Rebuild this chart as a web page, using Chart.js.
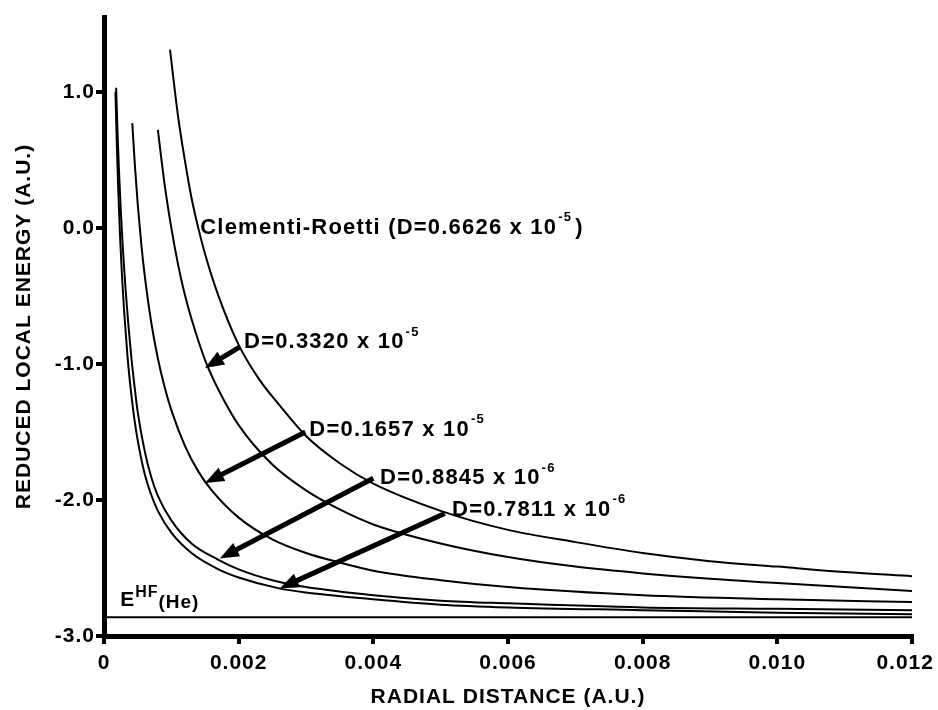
<!DOCTYPE html>
<html>
<head>
<meta charset="utf-8">
<script src="https://cdn.jsdelivr.net/npm/chart.js@4.4.0/dist/chart.umd.min.js"></script>
<style>
  body { margin: 0; background: #fff; }
  #wrap { width: 938px; height: 710px; }
</style>
</head>
<body>
<div id="wrap"><canvas id="myChart"></canvas></div>
<script>
// values (radial distance / reduced local energy, a.u.)

const xCR = [0.00098, 0.0011, 0.0012, 0.0013, 0.0014, 0.0015, 0.0017, 0.002, 0.0023, 0.0026, 0.003, 0.0035, 0.004, 0.005, 0.006, 0.007, 0.008, 0.009, 0.010, 0.011, 0.012];
const yCR = [1.31, 0.82, 0.50, 0.22, 0.0, -0.19, -0.50, -0.86, -1.11, -1.30, -1.53, -1.73, -1.88, -2.08, -2.22, -2.31, -2.39, -2.45, -2.49, -2.53, -2.56];

const x3320 = [0.0008, 0.0009, 0.001, 0.0011, 0.0012, 0.0013, 0.0015, 0.0017, 0.002, 0.0025, 0.003, 0.0035, 0.004, 0.005, 0.006, 0.007, 0.008, 0.009, 0.010, 0.011, 0.012];
const y3320 = [0.72, 0.32, 0.0, -0.27, -0.49, -0.67, -0.97, -1.19, -1.45, -1.74, -1.93, -2.07, -2.18, -2.32, -2.42, -2.49, -2.54, -2.58, -2.61, -2.64, -2.67];

const x1657 = [0.00042, 0.00046, 0.0005, 0.00055, 0.0006, 0.0007, 0.0008, 0.0009, 0.001, 0.0012, 0.0014, 0.0016, 0.002, 0.0025, 0.003, 0.0035, 0.004, 0.005, 0.006, 0.008, 0.010, 0.012];
const y1657 = [0.77, 0.45, 0.18, -0.1, -0.33, -0.69, -0.96, -1.17, -1.34, -1.6, -1.79, -1.93, -2.13, -2.29, -2.39, -2.46, -2.52, -2.59, -2.64, -2.70, -2.73, -2.75];

const x8845 = [0.00018, 0.0002, 0.00022, 0.00025, 0.00028, 0.00032, 0.00036, 0.0004, 0.00045, 0.0005, 0.0006, 0.0007, 0.0008, 0.001, 0.0013, 0.0017, 0.002, 0.0025, 0.003, 0.004, 0.005, 0.006, 0.008, 0.010, 0.012];
const y8845 = [1.03, 0.72, 0.45, 0.12, -0.15, -0.45, -0.7, -0.92, -1.15, -1.35, -1.63, -1.83, -1.97, -2.15, -2.32, -2.44, -2.51, -2.59, -2.64, -2.70, -2.74, -2.76, -2.79, -2.80, -2.81];

const x7811 = [0.00017, 0.00019, 0.00021, 0.00024, 0.00027, 0.0003, 0.00035, 0.0004, 0.00045, 0.0005, 0.0006, 0.0007, 0.0008, 0.001, 0.0013, 0.0017, 0.002, 0.0026, 0.003, 0.004, 0.005, 0.006, 0.008, 0.010, 0.012];
const y7811 = [1.0, 0.62, 0.3, -0.08, -0.38, -0.62, -0.95, -1.2, -1.4, -1.56, -1.8, -1.96, -2.08, -2.24, -2.39, -2.51, -2.57, -2.65, -2.68, -2.73, -2.77, -2.79, -2.81, -2.83, -2.84];

// Hartree-Fock energy of He
const eHF = -2.8617;
const xHF = [0, 0.012];

const xTicks = [0, 0.002, 0.004, 0.006, 0.008, 0.010, 0.012];
const xTickLabels = ['0', '0.002', '0.004', '0.006', '0.008', '0.010', '0.012'];
const yTicks = [-3, -2, -1, 0, 1];
const yTickLabels = ['-3.0', '-2.0', '-1.0', '0.0', '1.0'];

// labels and arrows (data units)
const labelText = ['Clementi-Roetti (D=0.6626 x 10', 'D=0.3320 x 10', 'D=0.1657 x 10', 'D=0.8845 x 10', 'D=0.7811 x 10'];
const labelExp = ['-5', '-5', '-5', '-6', '-6'];
const labelTail = [')', '', '', '', ''];
const labelX = [0.00143, 0.00208, 0.00305, 0.00410, 0.00517];
const labelY = [0.0, -0.84, -1.485, -1.84, -2.07];

const arrowFrom = [[0.00202, -0.875], [0.00299, -1.50], [0.0040, -1.84], [0.00506, -2.10]];
const arrowTo = [[0.0015, -1.03], [0.0015, -1.875], [0.00172, -2.43], [0.00261, -2.65]];

const fam = "'Liberation Sans', Arial, sans-serif";

function pts(xs, ys) {
    return xs.map((x, i) => ({ x: x, y: ys[i] }));
}

function curve(xs, ys) {
    return {
        data: pts(xs, ys),
        borderColor: '#000',
        borderWidth: 2,
        pointRadius: 0,
        cubicInterpolationMode: 'monotone',
        fill: false
    };
}

function drawArrow(ctx, x1, y1, x2, y2) {
    const ang = Math.atan2(y2 - y1, x2 - x1);
    const len = 19, half = 7.5;
    const bx = x2 - len * Math.cos(ang), by = y2 - len * Math.sin(ang);
    ctx.lineWidth = 5;
    ctx.beginPath();
    ctx.moveTo(x1, y1);
    ctx.lineTo(bx + 2 * Math.cos(ang), by + 2 * Math.sin(ang));
    ctx.stroke();
    ctx.beginPath();
    ctx.moveTo(x2, y2);
    ctx.lineTo(bx + half * Math.sin(ang), by - half * Math.cos(ang));
    ctx.lineTo(bx - half * Math.sin(ang), by + half * Math.cos(ang));
    ctx.closePath();
    ctx.fill();
}

const notes = {
    id: 'notes',
    beforeDraw(chart) {
        chart.ctx.letterSpacing = '1px';
    },
    afterDatasetsDraw(chart) {
        const ctx = chart.ctx;
        const sx = chart.scales.x, sy = chart.scales.y;
        ctx.save();
        ctx.fillStyle = '#000';
        ctx.strokeStyle = '#000';
        ctx.lineCap = 'butt';

        arrowFrom.forEach((a, i) => {
            const b = arrowTo[i];
            drawArrow(ctx, sx.getPixelForValue(a[0]), sy.getPixelForValue(a[1]),
                sx.getPixelForValue(b[0]), sy.getPixelForValue(b[1]));
        });

        ctx.textBaseline = 'middle';
        ctx.textAlign = 'left';
        ctx.letterSpacing = '1.2px';
        labelText.forEach((t, i) => {
            let px = sx.getPixelForValue(labelX[i]);
            const py = sy.getPixelForValue(labelY[i]);
            ctx.font = 'bold 22px ' + fam;
            ctx.fillText(t, px, py);
            px += ctx.measureText(t).width + 1;
            ctx.font = 'bold 13px ' + fam;
            ctx.fillText(labelExp[i], px, py - 10);
            px += ctx.measureText(labelExp[i]).width + 3;
            if (labelTail[i]) {
                ctx.font = 'bold 22px ' + fam;
                ctx.fillText(labelTail[i], px, py);
            }
        });

        // E^HF(He)
        ctx.textBaseline = 'alphabetic';
        ctx.letterSpacing = '1px';
        let ex = sx.getPixelForValue(0.00024);
        const ey = sy.getPixelForValue(-2.78);
        ctx.font = 'bold 21px ' + fam;
        ctx.fillText('E', ex, ey);
        ex += ctx.measureText('E').width;
        ctx.font = 'bold 16px ' + fam;
        ctx.fillText('HF', ex, ey - 9);
        ex += ctx.measureText('HF').width;
        ctx.font = 'bold 19px ' + fam;
        ctx.fillText('(He)', ex, ey + 2);
        ctx.restore();
    }
};

const ctx1 = document.getElementById('myChart');

new Chart(ctx1, {
    type: 'line',
    data: {
        datasets: [
            curve(xCR, yCR),
            curve(x3320, y3320),
            curve(x1657, y1657),
            curve(x8845, y8845),
            curve(x7811, y7811),
            {
                data: xHF.map(x => ({ x: x, y: eHF })),
                borderColor: '#000',
                borderWidth: 2,
                pointRadius: 0,
                fill: false
            }
        ]
    },
    options: {
        responsive: true,
        maintainAspectRatio: false,
        animation: false,
        events: [],
        layout: { padding: { top: 17, right: 26, left: 0, bottom: 0 } },
        plugins: {
            legend: { display: false },
            tooltip: { enabled: false }
        },
        scales: {
            x: {
                type: 'linear',
                min: 0,
                max: 0.012,
                afterBuildTicks: s => { s.ticks = xTicks.map(v => ({ value: v })); },
                afterFit: s => { s.height = 74; s.paddingLeft = 0; s.paddingRight = 0; },
                border: { display: true, color: '#000', width: 5 },
                grid: { drawOnChartArea: false, drawTicks: true, tickLength: 8, color: '#000', lineWidth: 4 },
                ticks: {
                    color: '#000',
                    padding: 7,
                    maxRotation: 0,
                    font: { family: fam, size: 21, weight: 'bold' },
                    // last label is pushed a little left so it stays inside the page
                    callback: (v, i) => i === xTickLabels.length - 1 ? xTickLabels[i] + '  ' : xTickLabels[i]
                },
                title: {
                    display: true,
                    text: 'RADIAL DISTANCE (A.U.)',
                    color: '#000',
                    font: { family: fam, size: 21, weight: 'bold' },
                    padding: { top: 0, bottom: 0 }
                }
            },
            y: {
                type: 'linear',
                min: -3,
                max: 1.55,
                afterBuildTicks: s => { s.ticks = yTicks.map(v => ({ value: v })); },
                afterFit: s => { s.width = 104; s.paddingTop = 0; s.paddingBottom = 0; },
                border: { display: true, color: '#000', width: 5 },
                grid: { drawOnChartArea: false, drawTicks: true, tickLength: 8, color: '#000', lineWidth: 4 },
                ticks: {
                    color: '#000',
                    padding: 1,
                    font: { family: fam, size: 21, weight: 'bold' },
                    callback: (v, i) => yTickLabels[i]
                },
                title: {
                    display: true,
                    text: 'REDUCED LOCAL ENERGY (A.U.)',
                    color: '#000',
                    font: { family: fam, size: 21, weight: 'bold' },
                    padding: { top: 12, bottom: 0 }
                }
            }
        }
    },
    plugins: [notes]
});
</script>
</body>
</html>
